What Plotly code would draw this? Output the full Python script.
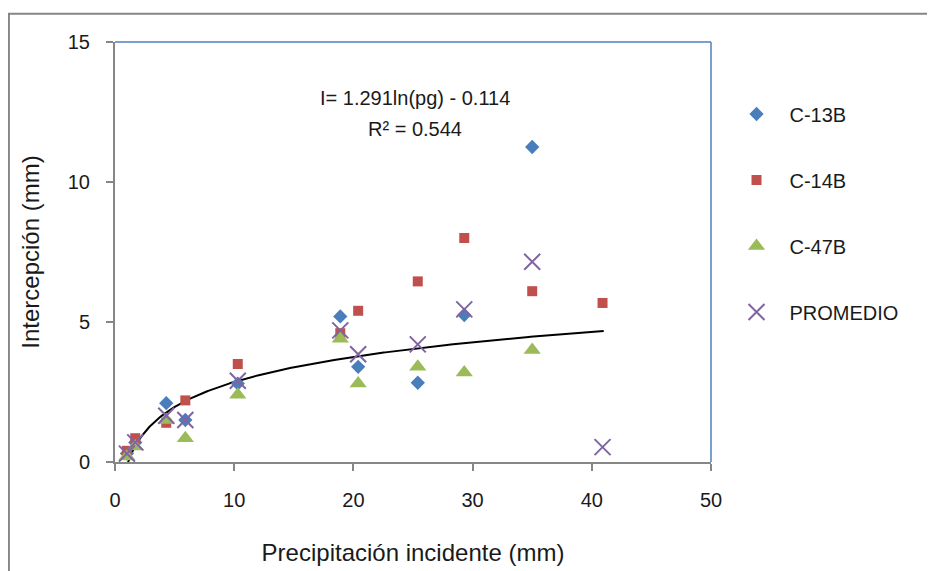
import numpy as np
import plotly.graph_objects as go

# Data
x_vals = [1.0, 1.7, 4.3, 5.9, 10.3, 18.9, 20.4, 25.4, 29.3, 35.0, 40.9]
c13b = [0.3, 0.7, 2.1, 1.5, 2.8, 5.2, 3.4, 2.83, 5.25, 11.25, None]
c14b = [0.4, 0.85, 1.4, 2.2, 3.5, 4.6, 5.4, 6.45, 8.0, 6.1, 5.68]
c47b = [0.2, 0.55, 1.5, 0.85, 2.4, 4.4, 2.8, 3.4, 3.2, 4.0, None]
promedio = [0.3, 0.7, 1.65, 1.5, 2.9, 4.7, 3.85, 4.2, 5.45, 7.15, 0.53]

# Trendline shown on chart: I = 1.291 ln(pg) - 0.114
trend_a = 1.291
trend_b = -0.114
trend_x = np.linspace(1.0, 41.0, 300)
trend_y = trend_a * np.log(trend_x) + trend_b

x_ticks = [0, 10, 20, 30, 40, 50]
y_ticks = [0, 5, 10, 15]

FONT = "Liberation Sans"
GREY = "#868686"

fig = go.Figure()

fig.add_trace(go.Scatter(x=trend_x, y=trend_y, mode="lines",
                         line=dict(color="black", width=2), showlegend=False,
                         hoverinfo="skip"))

fig.add_trace(go.Scatter(x=x_vals, y=c13b, mode="markers", name="C-13B",
                         legendgroup="a",
                         marker=dict(symbol="diamond", size=11, color="#4A7EBB")))
fig.add_trace(go.Scatter(x=x_vals, y=c14b, mode="markers", name="C-14B",
                         legendgroup="b",
                         marker=dict(symbol="square", size=10, color="#C0504D")))
fig.add_trace(go.Scatter(x=x_vals, y=c47b, mode="markers", name="C-47B",
                         legendgroup="c",
                         marker=dict(symbol="triangle-up", size=15, color="#9BBB59")))
fig.add_trace(go.Scatter(x=x_vals, y=promedio, mode="markers", name="PROMEDIO",
                         legendgroup="d",
                         marker=dict(symbol="x-thin", size=16, color="#8064A2",
                                     line=dict(color="#8064A2", width=2))))

fig.update_layout(
    width=935, height=571,
    margin=dict(l=107, r=232, t=34, b=117),
    paper_bgcolor="white", plot_bgcolor="white",
    font=dict(family=FONT, size=20, color="#1a1a1a"),
    xaxis=dict(range=[0, 50], tickvals=x_ticks, showgrid=False, zeroline=False,
               showline=True, linecolor=GREY, linewidth=2,
               ticks="outside", ticklen=7, tickwidth=2, tickcolor=GREY,
               ticklabelstandoff=12,
               title=dict(text="Precipitación incidente (mm)", standoff=34)),
    yaxis=dict(range=[0, 15], tickvals=y_ticks, showgrid=False, zeroline=False,
               showline=True, linecolor=GREY, linewidth=2,
               ticks="outside", ticklen=7, tickwidth=2, tickcolor=GREY,
               ticklabelstandoff=12,
               title=dict(text="Intercepción (mm)", standoff=21)),
    legend=dict(x=1.021, y=0.875, xanchor="left", yanchor="top",
                tracegroupgap=37, font=dict(size=20), itemwidth=56,
                bgcolor="rgba(0,0,0,0)"),
    shapes=[
        # plot area top and right border (blue)
        dict(type="line", xref="paper", yref="paper", x0=0, x1=1, y0=1, y1=1,
             line=dict(color="#4F81BD", width=1.5)),
        dict(type="line", xref="paper", yref="paper", x0=1, x1=1, y0=0, y1=1,
             line=dict(color="#4F81BD", width=1.5)),
        # outer chart border
        dict(type="rect", xref="paper", yref="paper", x0=-0.178, x1=1.6,
             y0=-0.5, y1=1.067, line=dict(color=GREY, width=2), layer="below"),
    ],
    annotations=[
        dict(x=25.2, y=13.0, xref="x", yref="y", text="I= 1.291ln(pg) - 0.114",
             showarrow=False, font=dict(size=20)),
        dict(x=25.2, y=11.9, xref="x", yref="y", text="R² = 0.544",
             showarrow=False, font=dict(size=20)),
    ],
)

fig.write_html("out.html")
